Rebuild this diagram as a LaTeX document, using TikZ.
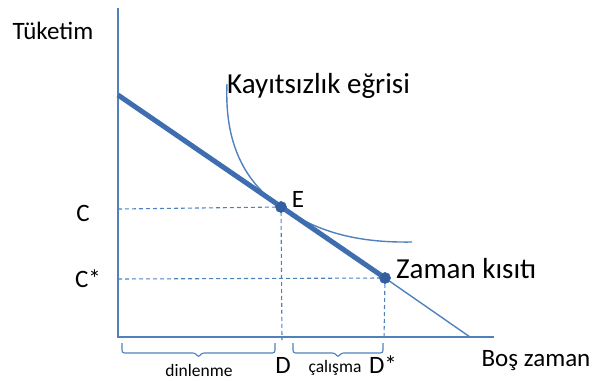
\documentclass[tikz,border=0pt]{standalone}
\usepackage{fontspec}
\setmainfont{Carlito}
\definecolor{lb}{HTML}{4F81BD}
\definecolor{db}{HTML}{3E6DB0}
\definecolor{dot}{HTML}{345E9E}
\tikzset{
  thinl/.style={draw=lb, line width=1.4pt},
  dsh/.style={draw=lb, line width=1.1pt, dash pattern=on 4pt off 3pt},
  lbl/.style={font=\fontsize{25}{28}\selectfont, text=black, inner sep=0pt},
  blbl/.style={font=\fontsize{29}{32}\selectfont, text=black, inner sep=0pt},
  slbl/.style={font=\fontsize{17.5}{20}\selectfont, text=black, inner sep=0pt},
  pt/.style={circle, fill=dot, draw=db, minimum size=11pt, inner sep=0pt},
  brc/.style={draw=lb, line width=1.1pt, rounded corners=2.5pt}
}
\begin{document}
\begin{tikzpicture}[x=1pt,y=-1pt]
\useasboundingbox (0,0) rectangle (594,380);
% axes
\coordinate (O) at (118,337);
\coordinate (ytop) at (118,8);
\coordinate (xend) at (494,337);
\draw[thinl] (ytop) -- (O) -- (xend);
% constraint
\coordinate (A) at (118,95);
\coordinate (B) at (470,337);
\node[pt] (E) at (281,207) {};
\node[pt] (Ds) at (385,278) {};
\draw[thinl] (Ds.center) -- (B);
% indifference curve
\coordinate (I1) at (227,84);
\coordinate (I2) at (412,242);
\draw[thinl] (I1) .. controls (224,150) and (250,186) .. (E.center)
  .. controls (316,231) and (355,243) .. (I2);
\draw[draw=db, line width=5pt] (A) -- (Ds.center);
% dashed
\coordinate (Cy) at (118,209);
\coordinate (Csy) at (118,279);
\coordinate (Dx) at (282,340);
\coordinate (Dsx) at (384,340);
\draw[dsh] (Cy) -- (E.center) -- (Dx);
\draw[dsh] (Csy) -- (Ds.center) -- (Dsx);
\node[pt] at (E) {};
\node[pt] at (Ds) {};
% braces
\coordinate (b1a) at (122,343);
\coordinate (b1b) at (275,343);
\coordinate (b2a) at (293,343);
\coordinate (b2b) at (383,343);
\draw[brc] (b1a) |- (195.5,353) -- (198.5,357.5) -- (201.5,353) -| (b1b);
\draw[brc] (b2a) |- (335,353) -- (338,357.5) -- (341,353) -| (b2b);
% labels
\node[lbl] (t1) at (53,31) {Tüketim};
\node[blbl, anchor=west] (t2) at (227,86) {Kayıtsızlık eğrisi};
\node[lbl] (tE) at (298,199) {E};
\node[lbl] (tC) at (83,213) {C};
\node[lbl] (tCs) at (88,279) {C*};
\node[blbl, anchor=west] (tZ) at (396,269) {Zaman kısıtı};
\node[lbl] (tB) at (536,361) {Boş zaman};
\node[lbl] (tD) at (283,365) {D};
\node[lbl] (tDs) at (383,365) {D*};
\node[slbl] (td) at (199,370) {dinlenme};
\node[slbl] (tc) at (335,368) {çalışma};
\end{tikzpicture}
\end{document}
